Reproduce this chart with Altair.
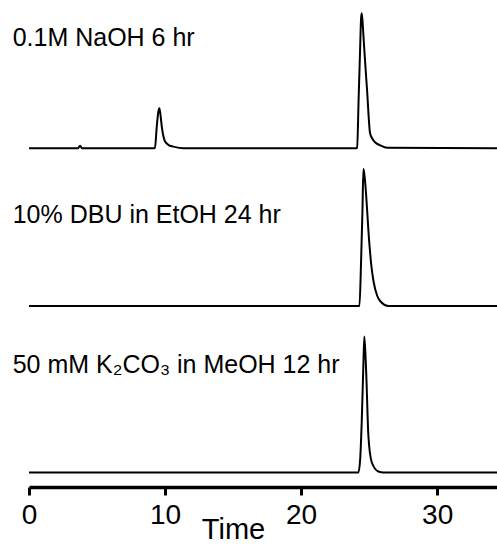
import altair as alt
import pandas as pd

# ---- data ----
labels = ["0.1M NaOH 6 hr", "10% DBU in EtOH 24 hr", "50 mM K\u2082CO\u2083 in MeOH 12 hr"]
offsets = [338.7, 181.0, 14.5]          # vertical stacking offset of each trace (signal units)
label_heights = [102.3, 83.0, 99.5]     # label baseline above each trace's baseline

t1 = [0, 3.6, 3.75, 3.9, 9.1, 9.26, 9.39, 9.5, 9.58, 9.66, 9.76, 9.88, 10.0, 10.3, 10.61, 11.35,
      24.0, 24.12, 24.23, 24.34, 24.41, 24.46, 24.55, 24.63, 24.85, 25.07, 25.22, 25.44, 25.81, 26.32, 34.4]
s1 = [0, 0, 2.5, 0, 0, 0.5, 21.7, 36, 40, 34, 21.7, 12, 6.7, 3, 1.7, 0,
      0, 0.5, 50, 100, 130, 135, 120, 102, 58, 15, 10, 6, 3, 0.5, 0]

t2 = [0, 24.2, 24.29, 24.41, 24.51, 24.58, 24.65, 25.02, 25.15, 25.32, 25.6, 25.81, 26.42, 34.4]
s2 = [0, 0, 0, 45, 95, 137, 131.7, 62, 42, 25, 10, 5, 0, 0]

t3 = [0, 24.1, 24.21, 24.34, 24.46, 24.58, 24.65, 24.78, 24.95, 25.2, 25.68, 26.05, 34.4]
s3 = [0, 0, 0, 12.7, 52, 109, 136, 102, 36, 10, 1, 0, 0]

x_ticks = [0, 10, 20, 30]

# ---- build tables ----
rows = []
for i, (tt, ss) in enumerate([(t1, s1), (t2, s2), (t3, s3)]):
    for t, s in zip(tt, ss):
        rows.append({"trace": labels[i], "time": t, "signal": offsets[i] + s})
df = pd.DataFrame(rows)

lab = pd.DataFrame({
    "label": labels,
    "time": [-1.2, -1.2, -1.2],
    "signal": [o + h for o, h in zip(offsets, label_heights)],
})

FONT = "Liberation Sans"
xscale = alt.Scale(domain=[0, 34.4], nice=False, zero=False)
yscale = alt.Scale(domain=[0, 487], nice=False, zero=False)

lines = alt.Chart(df).mark_line(color="black", strokeWidth=2, interpolate="monotone", clip=True).encode(
    x=alt.X("time:Q", scale=xscale,
            axis=alt.Axis(values=x_ticks, title="Time", grid=False,
                          domainColor="black", domainWidth=3.5,
                          tickColor="black", tickWidth=3, tickSize=8,
                          labelFont=FONT, labelFontSize=28, labelColor="black",
                          labelPadding=6, labelFlush=False,
                          titleFont=FONT, titleFontSize=29, titleFontWeight="normal",
                          titleColor="black", titleX=204, titleY=51,
                          titleAlign="center", titleBaseline="alphabetic")),
    y=alt.Y("signal:Q", scale=yscale, axis=None),
    detail="trace:N",
)

texts = alt.Chart(lab).mark_text(align="left", baseline="alphabetic", font=FONT,
                                 fontSize=25, color="black").encode(
    x=alt.X("time:Q", scale=xscale),
    y=alt.Y("signal:Q", scale=yscale),
    text="label:N",
)

chart = alt.layer(lines, texts).properties(
    width=468, height=487,
    autosize=alt.AutoSizeParams(type="none"),
    padding={"left": 29, "top": 0, "right": 0, "bottom": 57},
).configure_view(stroke=None)

chart.save("out.html", embed_options={"renderer": "svg", "actions": False})
